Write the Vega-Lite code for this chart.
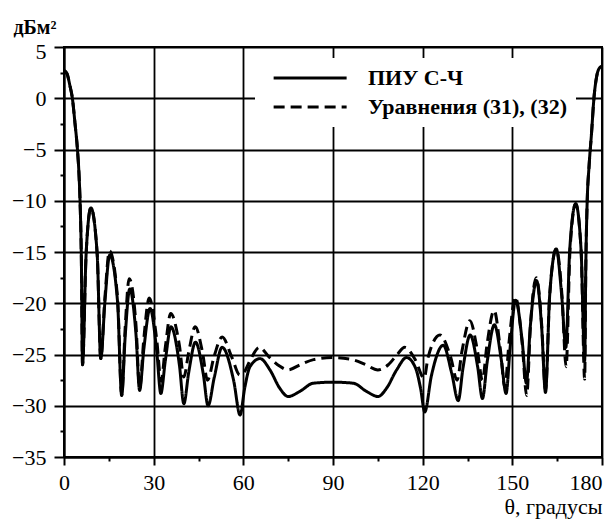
{
  "$schema": "https://vega.github.io/schema/vega-lite/v6.json",
  "width": 538,
  "height": 410,
  "autosize": {"type": "none"},
  "padding": {"left": 64, "top": 47, "right": 4, "bottom": 64},
  "background": "white",
  "config": {"view": {"stroke": "black", "strokeWidth": 2}, "font": "Liberation Serif"},
  "datasets": {
    "solid": [
      {"t":0,"v":2.7},{"t":1,"v":2.4},{"t":2,"v":1.2},{"t":2.8,"v":0},{"t":3.7,"v":-2.5},{"t":4.5,"v":-5},{"t":5.0,"v":-7.3},{"t":5.4,"v":-10.3},{"t":5.8,"v":-15.5},{"t":6.2,"v":-26.0},
      {"t":7.4,"v":-15.2},{"t":9.0,"v":-10.7},{"t":11.1,"v":-15.2},{"t":12.3,"v":-25.4},
      {"t":13.7,"v":-19.8},{"t":15.3,"v":-15.3},{"t":17.9,"v":-19.8},{"t":19.3,"v":-29.0},
      {"t":20.5,"v":-23.1},{"t":22.0,"v":-18.6},{"t":24.1,"v":-23.1},{"t":25.3,"v":-28.5},
      {"t":26.7,"v":-24.5},{"t":28.8,"v":-20.5},{"t":31.0,"v":-24.6},{"t":32.4,"v":-28.8},
      {"t":33.9,"v":-25.6},{"t":35.8,"v":-22.3},{"t":38.6,"v":-26.0},{"t":40.1,"v":-29.8},
      {"t":41.7,"v":-26.8},{"t":44.0,"v":-23.8},{"t":46.6,"v":-26.9},{"t":48.2,"v":-30.0},
      {"t":50.3,"v":-27.2},{"t":52.9,"v":-24.3},{"t":56.8,"v":-27.6},{"t":58.9,"v":-30.9},
      {"t":60.5,"v":-28.2},{"t":62.2,"v":-26.2},{"t":65.6,"v":-25.4},{"t":68.9,"v":-26.5},{"t":72.2,"v":-28.3},{"t":75.0,"v":-29.1},{"t":78.9,"v":-28.6},{"t":83.4,"v":-27.8},{"t":90.0,"v":-27.7},
      {"t":96.8,"v":-27.8},{"t":101.2,"v":-28.6},{"t":105.1,"v":-29.1},{"t":107.9,"v":-28.3},{"t":111.3,"v":-26.5},{"t":114.6,"v":-25.3},{"t":117.6,"v":-26.3},{"t":119.3,"v":-28.3},{"t":120.7,"v":-30.6},
      {"t":122.9,"v":-27.1},{"t":126.9,"v":-24.1},{"t":129.7,"v":-26.8},{"t":131.9,"v":-29.5},
      {"t":133.5,"v":-26.3},{"t":135.9,"v":-23.1},{"t":138.4,"v":-26.2},{"t":140.0,"v":-29.3},
      {"t":141.6,"v":-25.7},{"t":144.0,"v":-22.1},{"t":146.3,"v":-25.5},{"t":147.9,"v":-28.8},
      {"t":149.3,"v":-24.2},{"t":151.1,"v":-19.7},{"t":153.3,"v":-23.7},{"t":154.7,"v":-27.8},
      {"t":156.0,"v":-22.3},{"t":158.1,"v":-17.8},{"t":159.8,"v":-22.3},{"t":161.1,"v":-28.7},
      {"t":162.5,"v":-19.2},{"t":164.7,"v":-14.7},{"t":166.5,"v":-19.2},{"t":167.9,"v":-24.3},
      {"t":169.2,"v":-14.8},{"t":171.2,"v":-10.3},{"t":173.0,"v":-14.8},{"t":174.2,"v":-25.6},
      {"t":174.6,"v":-16},{"t":175.0,"v":-10.5},{"t":175.7,"v":-6.5},{"t":176.5,"v":-3.4},{"t":177.3,"v":0},{"t":178.2,"v":2.1},{"t":179.3,"v":3.0},{"t":180,"v":3.1}
    ],
    "dashed": [
      {"t":0,"v":2.7},{"t":1,"v":2.4},{"t":2,"v":1.2},{"t":2.8,"v":0},{"t":3.7,"v":-2.5},{"t":4.5,"v":-5},{"t":5.0,"v":-7.3},{"t":5.4,"v":-10.3},{"t":5.8,"v":-15.5},{"t":6.2,"v":-26.0},
      {"t":7.4,"v":-15.2},{"t":9.0,"v":-10.7},{"t":11.1,"v":-15.2},{"t":12.3,"v":-25.4},
      {"t":13.7,"v":-19.4},{"t":15.2,"v":-14.9},{"t":17.9,"v":-19.4},{"t":19.3,"v":-29.0},
      {"t":20.5,"v":-22.2},{"t":21.8,"v":-17.6},{"t":24.1,"v":-22.2},{"t":25.3,"v":-28.3},
      {"t":26.7,"v":-23.5},{"t":28.5,"v":-19.5},{"t":31.0,"v":-23.5},{"t":32.5,"v":-27.6},
      {"t":33.9,"v":-24.3},{"t":35.7,"v":-21.0},{"t":38.6,"v":-24.1},{"t":40.1,"v":-27.2},
      {"t":41.7,"v":-24.8},{"t":43.9,"v":-22.3},{"t":46.4,"v":-24.9},{"t":48.0,"v":-27.5},
      {"t":50.3,"v":-25.1},{"t":52.9,"v":-23.3},{"t":56.2,"v":-25.3},{"t":58.8,"v":-27.0},
      {"t":60.3,"v":-26.7},{"t":62.2,"v":-25.6},{"t":65.4,"v":-24.3},{"t":68.5,"v":-25.2},{"t":72.0,"v":-26.1},{"t":75.0,"v":-26.5},{"t":79.0,"v":-26.0},{"t":83.5,"v":-25.5},{"t":90.0,"v":-25.3},
      {"t":96.5,"v":-25.5},{"t":101.0,"v":-26.0},{"t":105.0,"v":-26.5},{"t":108.5,"v":-26.0},{"t":111.5,"v":-25.0},{"t":114.0,"v":-24.3},{"t":117.5,"v":-25.5},{"t":120.5,"v":-27.3},
      {"t":121.8,"v":-25.3},{"t":125.8,"v":-23.1},{"t":129.4,"v":-25.3},{"t":131.5,"v":-27.5},
      {"t":133.2,"v":-24.6},{"t":135.8,"v":-21.7},{"t":138.3,"v":-24.6},{"t":140.0,"v":-27.5},
      {"t":141.5,"v":-24.1},{"t":143.9,"v":-20.7},{"t":146.0,"v":-24.5},{"t":147.5,"v":-28.2},
      {"t":148.9,"v":-23.8},{"t":151.0,"v":-19.4},{"t":153.3,"v":-23.9},{"t":154.8,"v":-29.0},
      {"t":156.1,"v":-22.0},{"t":158.0,"v":-17.5},{"t":159.8,"v":-22.0},{"t":161.1,"v":-28.5},
      {"t":162.5,"v":-19.2},{"t":164.7,"v":-14.7},{"t":166.6,"v":-19.2},{"t":168.0,"v":-26.2},
      {"t":169.3,"v":-14.8},{"t":171.2,"v":-10.3},{"t":173.0,"v":-14.8},{"t":174.2,"v":-27.4},
      {"t":174.6,"v":-16},{"t":175.0,"v":-10.5},{"t":175.7,"v":-6.5},{"t":176.5,"v":-3.4},{"t":177.3,"v":0},{"t":178.2,"v":2.1},{"t":179.3,"v":3.0},{"t":180,"v":3.1}
    ]
  },
  "layer": [
    {
      "data": {"name": "solid"},
      "transform": [{"calculate": "'ПИУ С-Ч'", "as": "series"}],
      "mark": {"type": "line", "interpolate": "monotone", "color": "black", "strokeWidth": 3},
      "encoding": {
        "x": {"field": "t", "type": "quantitative"},
        "y": {"field": "v", "type": "quantitative"},
        "strokeDash": {"field": "series", "type": "nominal"}
      }
    },
    {
      "data": {"name": "dashed"},
      "transform": [{"calculate": "'Уравнения (31), (32)'", "as": "series"}],
      "mark": {"type": "line", "interpolate": "monotone", "color": "black", "strokeWidth": 3},
      "encoding": {
        "x": {"field": "t", "type": "quantitative"},
        "y": {"field": "v", "type": "quantitative"},
        "strokeDash": {"field": "series", "type": "nominal"}
      }
    }
  ],
  "resolve": {"scale": {"strokeDash": "shared"}},
  "encoding": {
    "x": {
      "field": "t", "type": "quantitative",
      "scale": {"domain": [0, 180], "nice": false, "zero": false},
      "axis": {
        "values": [0,15,30,45,60,75,90,105,120,135,150,165,180],
        "title": "θ, градусы",
        "titleFont": "Liberation Serif", "titleFontSize": 22, "titleFontWeight": "normal", "titleColor": "black",
        "titleX": 538, "titleY": 56, "titleAlign": "right", "titleBaseline": "alphabetic", "titleAnchor": "end",
        "labelExpr": "datum.value % 30 === 0 ? datum.label : ''",
        "labelFont": "Liberation Serif", "labelFontSize": 22, "labelColor": "black", "labelPadding": 7,
        "labelFlush": false, "labelOverlap": false,
        "labelAlign": {"condition": {"test": "datum.value === 180", "value": "right"}, "value": "center"},
        "tickSize": {"condition": {"test": "datum.value % 30 === 0", "value": 8}, "value": 4},
        "tickColor": "black", "tickWidth": 2,
        "domainColor": "black", "domainWidth": 2,
        "grid": true, "gridColor": "black", "gridWidth": 1.8,
        "gridOpacity": {"condition": {"test": "datum.value % 30 === 0", "value": 1}, "value": 0}
      }
    },
    "y": {
      "field": "v", "type": "quantitative",
      "scale": {"domain": [-35, 5], "nice": false, "zero": false},
      "axis": {
        "values": [-35,-32.5,-30,-27.5,-25,-22.5,-20,-17.5,-15,-12.5,-10,-7.5,-5,-2.5,0,2.5,5],
        "title": "дБм²",
        "titleFont": "Liberation Serif", "titleFontSize": 20, "titleFontWeight": "bold", "titleColor": "black",
        "titleAngle": 0, "titleX": -51, "titleY": -14, "titleAlign": "left", "titleBaseline": "alphabetic",
        "labelExpr": "datum.value % 5 === 0 ? datum.label : ''",
        "labelFont": "Liberation Serif", "labelFontSize": 22, "labelColor": "black", "labelPadding": 8,
        "labelFlush": false, "labelOverlap": false,
        "labelOffset": {"condition": {"test": "datum.value === 5", "value": 4}, "value": 0},
        "tickSize": {"condition": {"test": "datum.value % 5 === 0", "value": 10}, "value": 4},
        "tickColor": "black", "tickWidth": 2,
        "domainColor": "black", "domainWidth": 2,
        "grid": true, "gridColor": "black", "gridWidth": 1.8,
        "gridOpacity": {"condition": {"test": "datum.value % 5 === 0", "value": 1}, "value": 0}
      }
    },
    "strokeDash": {
      "field": "series", "type": "nominal",
      "scale": {"domain": ["ПИУ С-Ч", "Уравнения (31), (32)"], "range": [[1, 0], [11, 6]]},
      "legend": {
        "title": null, "orient": "none", "legendX": 191, "legendY": 11,
        "fillColor": "white", "padding": 9,
        "symbolType": "M-0.15,0H7.85", "symbolSize": 333, "symbolStrokeWidth": 3, "symbolStrokeColor": "black", "symbolFillColor": "transparent",
        "labelFont": "Liberation Serif", "labelFontSize": 22, "labelFontWeight": "bold", "labelColor": "black",
        "labelOffset": 82, "rowPadding": 7, "labelLimit": 400
      }
    }
  }
}
